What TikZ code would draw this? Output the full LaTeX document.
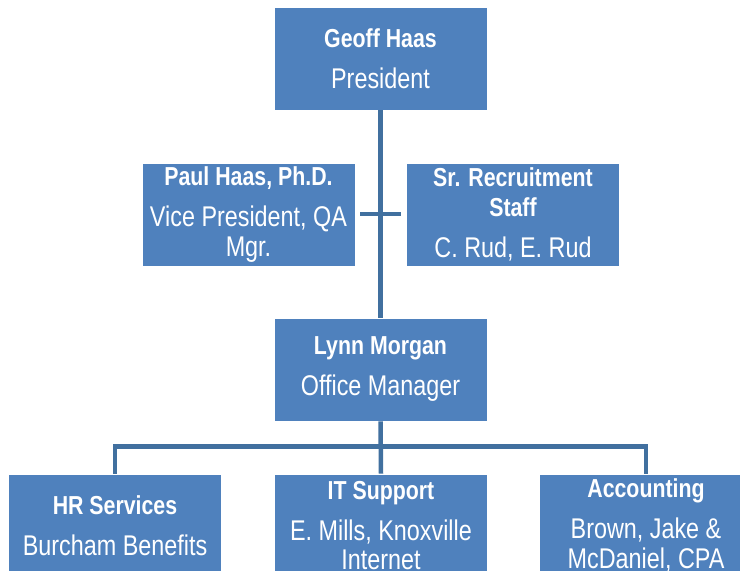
\documentclass[tikz,border=0pt]{standalone}
\usepackage{fontspec}
\setmainfont{Liberation Sans}[FakeStretch=0.82]
\usepackage{xcolor}
\definecolor{boxblue}{HTML}{4F81BD}
\definecolor{lineblue}{HTML}{41709F}
\usetikzlibrary{positioning}
\newcommand{\headline}[1]{{\fontsize{26}{29.5}\selectfont\bfseries #1}}

\begin{document}
\begin{tikzpicture}[x=1pt,y=-1pt,
    box/.style={rectangle,fill=boxblue,draw=white,line width=0.6pt,text=white,align=center,
      minimum width=213pt,minimum height=103pt,inner sep=0pt,
      font=\fontsize{28.5}{29.5}\selectfont},
    link/.style={draw=lineblue,line width=4.5pt}]
      \clip (0,0) rectangle (740,571);
      \fill[white] (0,0) rectangle (740,571);
      \node[box] (pres) at (380.5,58.5) {\headline{Geoff Haas}\\[11.5pt]President};
      \node[box] (vp) at (248.5,214.5) {\headline{Paul Haas, Ph.D.}\\[11.5pt]Vice President, QA\\Mgr.};
      \node[box] (staff) at (513,214.5) {\headline{Sr. Recruitment}\\\headline{Staff}\\[11.5pt]C. Rud, E. Rud};
      \node[box] (mgr) at (380.5,369.5) {\headline{Lynn Morgan}\\[11.5pt]Office Manager};
      \node[box] (hr) at (115,525.5) {\headline{HR Services}\\[11.5pt]Burcham Benefits};
      \node[box] (it) at (381,525.5) {\headline{IT Support}\\[11.5pt]E. Mills, Knoxville\\Internet};
      \node[box] (acc) at (646,525.5) {\headline{Accounting}\\[11.5pt]Brown, Jake \&\\McDaniel, CPA};
      \coordinate (stubL) at (360,214);
      \coordinate (stubR) at (401,214);

\draw[link] (pres.south) -- (mgr.north);  % President to office manager
      \draw[link] (stubL) -- (stubR);  % Staff branch
      \draw[link] (mgr.south) -- (it.north);  % Manager to IT
      \draw[link] (hr.north) |- ([yshift=27pt]it.north) -| (acc.north);  % Bus to the three services
    \end{tikzpicture}
\end{document}
